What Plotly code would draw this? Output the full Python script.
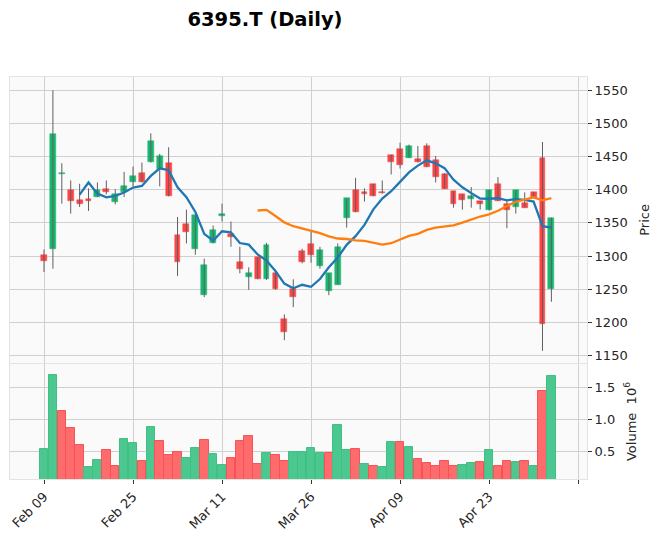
import plotly.graph_objects as go
import pandas as pd

# daily OHLC for 6395.T (58 trading days, Feb 09 .. May 10)
opens = [1301, 1310, 1423, 1399, 1384, 1386, 1389, 1401, 1382, 1397,
         1412, 1425, 1442, 1432, 1440, 1332, 1349, 1310, 1241, 1320,
         1361, 1333, 1291, 1269, 1298, 1265, 1275, 1205, 1251, 1307,
         1318, 1285, 1248, 1257, 1357, 1399, 1397, 1409, 1397, 1453,
         1461, 1448, 1446, 1466, 1445, 1424, 1398, 1393, 1386, 1383,
         1369, 1409, 1379, 1374, 1380, 1396, 1448, 1250]
highs = [1310, 1550, 1440, 1414, 1409, 1402, 1411, 1414, 1401, 1427,
         1435, 1441, 1485, 1454, 1464, 1359, 1370, 1362, 1296, 1346,
         1379, 1352, 1314, 1283, 1298, 1320, 1276, 1212, 1265, 1311,
         1337, 1314, 1274, 1319, 1387, 1418, 1402, 1409, 1414, 1453,
         1471, 1468, 1466, 1470, 1451, 1425, 1398, 1393, 1404, 1383,
         1400, 1419, 1384, 1399, 1396, 1396, 1472, 1358]
lows = [1276, 1281, 1379, 1364, 1374, 1368, 1389, 1393, 1378, 1389,
        1405, 1411, 1441, 1405, 1390, 1270, 1319, 1302, 1238, 1319,
        1352, 1314, 1274, 1249, 1265, 1264, 1249, 1173, 1223, 1289,
        1290, 1281, 1241, 1257, 1343, 1366, 1382, 1390, 1394, 1423,
        1432, 1448, 1441, 1434, 1411, 1401, 1373, 1370, 1373, 1370,
        1369, 1383, 1342, 1364, 1373, 1387, 1157, 1231]
closes = [1292, 1484, 1425, 1383, 1379, 1383.5, 1400, 1397, 1394, 1405,
          1420.5, 1412, 1473, 1451, 1391, 1291.5, 1337, 1362, 1286, 1339,
          1363, 1329, 1281, 1274, 1265, 1317, 1250, 1186, 1239, 1291.5,
          1301.5, 1309, 1274, 1313, 1387, 1367, 1394, 1391, 1395, 1442,
          1437, 1466, 1442, 1434.5, 1419.5, 1401, 1379, 1384.5, 1390.5, 1379,
          1399, 1383, 1369, 1399, 1373, 1387, 1197, 1358]
# volume in millions of shares
volumes = [0.536, 1.692, 1.132, 0.868, 0.604, 0.262, 0.370, 0.526, 0.277, 0.697,
           0.635, 0.355, 0.883, 0.666, 0.448, 0.495, 0.402, 0.557, 0.681, 0.464,
           0.293, 0.402, 0.666, 0.744, 0.308, 0.479, 0.448, 0.355, 0.495, 0.495,
           0.557, 0.479, 0.474, 0.915, 0.526, 0.536, 0.308, 0.277, 0.262, 0.650,
           0.650, 0.573, 0.381, 0.334, 0.277, 0.355, 0.277, 0.293, 0.324, 0.339,
           0.526, 0.277, 0.365, 0.339, 0.365, 0.277, 1.443, 1.676]

tick_pos = [0, 10, 20, 30, 40, 50, 60]
tick_labels = ['Feb 09', 'Feb 25', 'Mar 11', 'Mar 26', 'Apr 09', 'Apr 23', '']

df = pd.DataFrame({'open': opens, 'high': highs, 'low': lows,
                   'close': closes, 'volume': volumes})
df['i'] = range(len(df))
df['ma5'] = df['close'].rolling(5).mean()
df['ma25'] = df['close'].rolling(25).mean()

UP, DOWN = '#00b060', '#fe3032'
VUP, VDOWN = '#4dc790', '#fd6b6c'

body_col = [UP if c >= o else DOWN for o, c in zip(df['open'], df['close'])]
prev = df['close'].shift(1)
vol_col = [VUP if (pd.isna(p) or c >= p) else VDOWN for p, c in zip(prev, df['close'])]
vol_edge = ['#3fc084' if c == VUP else '#fa5254' for c in vol_col]

# wicks as one line trace broken with gaps
wx, wy = [], []
for i, h, l in zip(df['i'], df['high'], df['low']):
    wx += [i, i, None]
    wy += [l, h, None]

fig = go.Figure()
fig.add_trace(go.Scatter(x=wx, y=wy, mode='lines',
                         line=dict(color='#606060', width=1),
                         hoverinfo='skip', showlegend=False))
fig.add_trace(go.Bar(x=df['i'], y=(df['close'] - df['open']).abs(),
                     base=df[['open', 'close']].min(axis=1),
                     width=0.66, marker=dict(color=body_col, opacity=0.9,
                                             line=dict(color=body_col, width=0.5)),
                     showlegend=False))
fig.add_trace(go.Scatter(x=df['i'], y=df['ma5'], mode='lines',
                         line=dict(color='#1f77b4', width=2.3), showlegend=False))
fig.add_trace(go.Scatter(x=df['i'], y=df['ma25'], mode='lines',
                         line=dict(color='#ff7f0e', width=2.3), showlegend=False))
fig.add_trace(go.Bar(x=df['i'], y=df['volume'], width=0.96,
                     marker=dict(color=vol_col, line=dict(color=vol_edge, width=1)),
                     xaxis='x2', yaxis='y2', showlegend=False))

axis_font = dict(family='DejaVu Sans', size=13, color='#262626')
grid = '#d0d0d0'
frame = '#e3e3e3'

# the page body adds an 8px offset, margins below compensate for it
fig.update_layout(
    width=660, height=543,
    margin=dict(l=2, r=81, t=69, b=72),
    paper_bgcolor='white', plot_bgcolor='#fafafa',
    barmode='overlay', bargap=0,
    font=axis_font,
    title=dict(text='<b>6395.T (Daily)</b>', x=257 / 660, xanchor='center',
               xref='container', y=1 - 11 / 543, yref='container', yanchor='middle',
               font=dict(family='DejaVu Sans', size=19.5, color='black')),
    xaxis=dict(domain=[0, 1], anchor='y', range=[-3.82, 61.0], automargin=False,
               tickvals=tick_pos, ticktext=tick_labels, showticklabels=False,
               showgrid=True, gridcolor=grid, zeroline=False,
               showline=True, linecolor=frame, mirror=True, ticks=''),
    yaxis=dict(domain=[0.289, 1], anchor='x', side='right', range=[1139, 1570],
               automargin=False,
               tickvals=[1150, 1200, 1250, 1300, 1350, 1400, 1450, 1500, 1550],
               showgrid=True, gridcolor=grid, zeroline=False,
               showline=True, linecolor=frame, mirror=True,
               ticks='outside', ticklen=4, tickcolor='#333',
               title=dict(text='Price', standoff=13, font=axis_font)),
    xaxis2=dict(domain=[0, 1], anchor='y2', range=[-3.82, 61.0], matches='x',
                automargin=False,
                tickvals=tick_pos, ticktext=tick_labels, tickangle=-45,
                showgrid=True, gridcolor=grid, zeroline=False,
                showline=True, linecolor=frame, mirror=True,
                ticks='outside', ticklen=4, tickcolor='#333'),
    yaxis2=dict(domain=[0, 0.286], anchor='x2', side='right', range=[0.079, 1.861],
                automargin=False,
                tickvals=[0.5, 1.0, 1.5], ticktext=['0.5', '1.0', '1.5'],
                showgrid=True, gridcolor=grid, zeroline=False,
                showline=True, linecolor=frame, mirror=True,
                ticks='outside', ticklen=4, tickcolor='#333',
                title=dict(text='Volume  10<sup>6</sup>', standoff=12, font=axis_font)),
)

fig.write_html('out.html')
